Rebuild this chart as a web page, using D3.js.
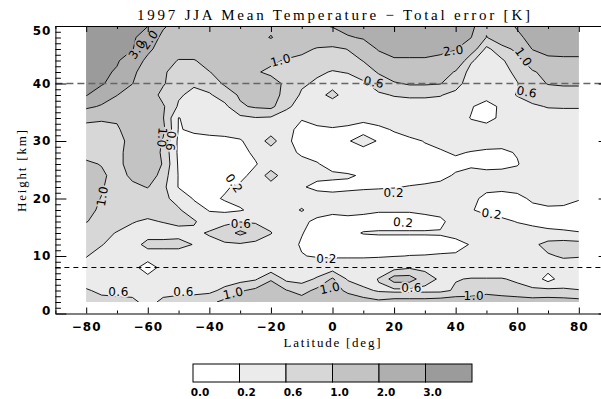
<!DOCTYPE html>
<html>
<head>
<meta charset="utf-8">
<script src="https://cdn.jsdelivr.net/npm/d3@7"></script>
<style>
  html, body { margin: 0; padding: 0; background: #fff; }
  svg { display: block; }
</style>
</head>
<body>
<div id="chart"></div>
<script>
// grid of the field: columns are latitudes, rows are heights (top row = 50 km)
const lats = [-80, -75, -70, -65, -60, -55, -50, -45, -40, -35, -30, -25, -20, -15, -10, -5, 0,
  5, 10, 15, 20, 25, 30, 35, 40, 45, 50, 55, 60, 65, 70, 75, 80];
const heights = [50, 48, 46, 44, 42, 40, 38, 36, 34, 32, 30, 28, 26, 24, 22, 20, 18, 16, 14, 12, 10, 8, 6, 4, 2];

// total error [K]
const errorGrid = [
  [3.8, 3.7, 3.5, 3.3, 3.02, 2.1, 1.7, 1.6, 1.6, 1.6, 1.6, 1.7, 1.8, 1.7, 1.8, 1.9, 2.05, 2.4, 2.6, 2.7, 2.7, 2.7, 2.7, 2.7, 2.5, 2.3, 1.1, 1.6, 2.1, 2.6, 2.8, 2.5, 2.3],
  [3.7, 3.6, 3.4, 3.15, 2.5, 1.8, 1.6, 1.5, 1.5, 1.5, 1.6, 1.7, 2.05, 1.6, 1.5, 1.4, 1.6, 1.9, 2.1, 2.5, 2.6, 2.6, 2.6, 2.6, 2.3, 2.02, 0.98, 1.3, 1.8, 2.3, 2.5, 2.4, 2.3],
  [3.6, 3.5, 3.3, 3.05, 2.2, 1.6, 1.5, 1.5, 1.5, 1.4, 1.4, 1.4, 1.4, 1.3, 1.15, 0.95, 0.85, 1.02, 1.4, 2.1, 2.3, 2.3, 2.3, 2.2, 2.05, 1.3, 0.5, 0.85, 1.1, 2.05, 2.3, 2.2, 2.2],
  [3.5, 3.3, 3.1, 2.5, 1.8, 1.4, 0.95, 0.95, 1.3, 1.3, 1.3, 1.2, 1.1, 0.95, 0.85, 0.8, 0.75, 0.8, 1.02, 1.5, 1.9, 1.9, 1.9, 1.8, 1.5, 0.65, 0.4, 0.55, 0.85, 1.3, 1.8, 1.9, 1.9],
  [3.4, 3.2, 2.9, 2.2, 1.5, 1.05, 0.85, 0.9, 0.98, 1.25, 1.3, 1.05, 0.9, 0.8, 0.7, 0.65, 0.58, 0.62, 0.75, 1.05, 1.3, 1.35, 1.35, 1.3, 0.95, 0.45, 0.3, 0.45, 0.7, 0.95, 1.15, 1.3, 1.3],
  [3.3, 3.1, 2.6, 2.02, 1.4, 1.05, 0.7, 0.65, 0.8, 1.05, 1.3, 1.3, 1.2, 0.9, 0.65, 0.55, 0.45, 0.45, 0.55, 0.75, 0.95, 1.05, 1.05, 1.02, 0.75, 0.4, 0.25, 0.3, 0.58, 0.85, 1.02, 1.05, 1.05],
  [3.05, 2.5, 2.02, 1.6, 1.3, 0.85, 0.65, 0.5, 0.55, 0.8, 1.05, 1.2, 1.2, 0.85, 0.55, 0.45, 0.72, 0.4, 0.45, 0.55, 0.62, 0.65, 0.65, 0.62, 0.5, 0.35, 0.3, 0.45, 0.62, 0.75, 0.8, 0.82, 0.82],
  [2.2, 1.9, 1.6, 1.5, 1.3, 1.05, 0.55, 0.35, 0.35, 0.5, 0.95, 1.05, 1.1, 0.7, 0.4, 0.35, 0.35, 0.35, 0.35, 0.4, 0.45, 0.45, 0.45, 0.45, 0.4, 0.22, 0.1, 0.25, 0.45, 0.55, 0.62, 0.63, 0.63],
  [1.15, 1.1, 1.05, 1.3, 1.3, 1.02, 0.19, 0.3, 0.3, 0.35, 0.5, 0.58, 0.55, 0.35, 0.22, 0.3, 0.3, 0.3, 0.25, 0.3, 0.35, 0.35, 0.35, 0.35, 0.3, 0.19, 0.12, 0.25, 0.35, 0.4, 0.45, 0.45, 0.45],
  [0.8, 0.75, 0.95, 1.2, 1.4, 1.1, 0.18, 0.25, 0.3, 0.32, 0.3, 0.35, 0.35, 0.28, 0.12, 0.15, 0.18, 0.15, 0.12, 0.15, 0.22, 0.3, 0.3, 0.3, 0.28, 0.28, 0.3, 0.3, 0.35, 0.4, 0.42, 0.42, 0.42],
  [0.8, 0.75, 0.8, 1.2, 1.4, 0.95, 0.12, 0.1, 0.1, 0.12, 0.18, 0.3, 0.8, 0.25, 0.1, 0.1, 0.1, 0.18, 0.3, 0.18, 0.12, 0.15, 0.21, 0.25, 0.3, 0.3, 0.28, 0.3, 0.33, 0.38, 0.4, 0.4, 0.4],
  [0.8, 0.8, 0.8, 1.3, 1.4, 0.9, 0.12, 0.1, 0.1, 0.1, 0.12, 0.25, 0.35, 0.3, 0.15, 0.1, 0.1, 0.1, 0.1, 0.1, 0.1, 0.12, 0.15, 0.18, 0.22, 0.19, 0.17, 0.15, 0.22, 0.35, 0.4, 0.4, 0.4],
  [1.1, 0.97, 0.8, 1.3, 1.5, 0.95, 0.15, 0.1, 0.1, 0.1, 0.12, 0.18, 0.35, 0.35, 0.3, 0.22, 0.1, 0.1, 0.1, 0.1, 0.1, 0.1, 0.1, 0.12, 0.15, 0.15, 0.1, 0.12, 0.18, 0.35, 0.4, 0.4, 0.4],
  [1.3, 1.1, 0.8, 1.1, 1.3, 0.8, 0.18, 0.12, 0.1, 0.12, 0.12, 0.3, 0.8, 0.35, 0.3, 0.25, 0.25, 0.22, 0.18, 0.12, 0.12, 0.12, 0.12, 0.15, 0.22, 0.3, 0.3, 0.3, 0.3, 0.35, 0.38, 0.4, 0.4],
  [1.2, 1.05, 0.75, 0.9, 1.02, 0.7, 0.18, 0.12, 0.12, 0.17, 0.25, 0.35, 0.4, 0.35, 0.22, 0.15, 0.12, 0.15, 0.17, 0.18, 0.19, 0.21, 0.23, 0.25, 0.3, 0.28, 0.25, 0.25, 0.3, 0.35, 0.38, 0.4, 0.4],
  [1.2, 0.98, 0.75, 0.7, 0.75, 0.7, 0.45, 0.17, 0.15, 0.22, 0.3, 0.35, 0.35, 0.3, 0.3, 0.3, 0.3, 0.3, 0.3, 0.3, 0.3, 0.3, 0.3, 0.3, 0.3, 0.25, 0.15, 0.12, 0.12, 0.25, 0.3, 0.28, 0.21],
  [1.05, 0.97, 0.75, 0.7, 0.75, 0.75, 0.65, 0.35, 0.18, 0.12, 0.17, 0.3, 0.35, 0.35, 0.65, 0.3, 0.25, 0.28, 0.25, 0.22, 0.22, 0.22, 0.25, 0.28, 0.3, 0.22, 0.12, 0.1, 0.1, 0.12, 0.15, 0.15, 0.15],
  [1.02, 0.85, 0.75, 0.62, 0.55, 0.62, 0.7, 0.65, 0.35, 0.5, 0.58, 0.55, 0.45, 0.35, 0.25, 0.15, 0.12, 0.12, 0.12, 0.12, 0.12, 0.12, 0.12, 0.15, 0.3, 0.35, 0.32, 0.25, 0.19, 0.15, 0.12, 0.12, 0.12],
  [0.75, 0.7, 0.58, 0.5, 0.4, 0.4, 0.45, 0.5, 0.65, 0.8, 1.1, 0.85, 0.62, 0.3, 0.21, 0.12, 0.12, 0.15, 0.21, 0.22, 0.22, 0.22, 0.22, 0.22, 0.25, 0.3, 0.35, 0.35, 0.3, 0.28, 0.25, 0.23, 0.21],
  [0.75, 0.62, 0.45, 0.4, 0.75, 0.75, 0.75, 0.58, 0.45, 0.55, 0.55, 0.5, 0.4, 0.28, 0.18, 0.12, 0.1, 0.1, 0.1, 0.1, 0.1, 0.1, 0.1, 0.12, 0.15, 0.21, 0.3, 0.35, 0.4, 0.5, 0.75, 0.8, 0.75],
  [0.62, 0.45, 0.4, 0.35, 0.35, 0.35, 0.35, 0.35, 0.35, 0.35, 0.35, 0.35, 0.3, 0.25, 0.21, 0.18, 0.16, 0.16, 0.17, 0.18, 0.19, 0.205, 0.21, 0.22, 0.22, 0.28, 0.3, 0.3, 0.25, 0.35, 0.55, 0.65, 0.62],
  [0.45, 0.35, 0.3, 0.3, 0.05, 0.3, 0.35, 0.35, 0.35, 0.35, 0.35, 0.35, 0.35, 0.35, 0.35, 0.35, 0.4, 0.4, 0.35, 0.35, 0.45, 0.55, 0.52, 0.4, 0.35, 0.35, 0.35, 0.35, 0.35, 0.35, 0.35, 0.4, 0.45],
  [0.35, 0.3, 0.3, 0.3, 0.3, 0.3, 0.3, 0.3, 0.35, 0.4, 0.45, 0.55, 0.95, 0.5, 0.45, 0.65, 1.05, 0.55, 0.4, 0.62, 1.2, 1.2, 0.75, 0.55, 0.58, 0.62, 0.62, 0.62, 0.55, 0.45, 0.05, 0.4, 0.35],
  [0.65, 0.5, 0.45, 0.45, 0.45, 0.45, 0.45, 0.45, 0.5, 0.7, 0.95, 1.1, 1.3, 1.02, 0.85, 1.1, 1.2, 0.9, 0.7, 0.55, 0.5, 0.5, 0.5, 0.5, 0.65, 0.8, 0.85, 0.75, 0.7, 0.65, 0.7, 0.65, 0.62],
  [0.7, 0.75, 0.75, 0.7, 0.45, 0.7, 0.8, 0.85, 0.9, 1.1, 1.3, 1.4, 1.4, 1.3, 1.2, 1.3, 1.4, 1.3, 1.2, 1.1, 1.2, 1.2, 1.2, 1.25, 1.3, 1.2, 1.3, 1.3, 1.25, 1.2, 1.2, 1.2, 1.15]
];

const levels = [0, 0.2, 0.6, 1.0, 2.0, 3.0];
const levelLabels = ["0.0", "0.2", "0.6", "1.0", "2.0", "3.0"];
const levelColors = ["#ffffff", "#ebebeb", "#d7d7d7", "#c3c3c3", "#afafaf", "#9b9b9b"];

const xTicks = [-80, -60, -40, -20, 0, 20, 40, 60, 80];
const xMinorTicks = [-90, -70, -50, -30, -10, 10, 30, 50, 70, 90];
const yTicks = [0, 10, 20, 30, 40, 50];
const refHeights = [40, 8];

// contour labels as they sit in the picture
const contourLabels = [
  { lat: -63.4, h: 45.9, text: "3.0", angle: -55 },
  { lat: -59.4, h: 47.6, text: "2.0", angle: -55 },
  { lat: -16.8, h: 44.0, text: "1.0", angle: -15 },
  { lat: -55.4, h: 30.6, text: "1.0", angle: 95 },
  { lat: -52.6, h: 30.0, text: "0.6", angle: 95 },
  { lat: -74.7, h: 20.4, text: "1.0", angle: -80 },
  { lat: -32.0, h: 22.6, text: "0.2", angle: 55 },
  { lat: -29.7, h: 15.6, text: "0.6", angle: 0 },
  { lat: -69.5, h: 3.8, text: "0.6", angle: 0 },
  { lat: -48.4, h: 3.8, text: "0.6", angle: 0 },
  { lat: -32.2, h: 3.5, text: "1.0", angle: -12 },
  { lat: -0.8, h: 4.4, text: "1.0", angle: -12 },
  { lat: 25.7, h: 4.4, text: "0.6", angle: 0 },
  { lat: 45.9, h: 3.0, text: "1.0", angle: 0 },
  { lat: -1.9, h: 9.4, text: "0.2", angle: 0 },
  { lat: 23.0, h: 15.8, text: "0.2", angle: 5 },
  { lat: 51.7, h: 17.3, text: "0.2", angle: 8 },
  { lat: 19.9, h: 21.0, text: "0.2", angle: 0 },
  { lat: 39.3, h: 45.7, text: "2.0", angle: -8 },
  { lat: 13.4, h: 40.2, text: "0.6", angle: 10 },
  { lat: 62.0, h: 44.6, text: "1.0", angle: 55 },
  { lat: 63.1, h: 38.5, text: "0.6", angle: 10 }
];

const width = 601, height = 399;
const svg = d3.select("#chart").append("svg")
  .attr("width", width)
  .attr("height", height);

const x = d3.scaleLinear().domain([-90, 90]).range([55.4, 609.6]);
const y = d3.scaleLinear().domain([0, 50]).range([313.5, 26]);

// grid index space -> lat / height -> pixels
const nx = lats.length, ny = heights.length;
const gLat = d3.scaleLinear().domain([0.5, nx - 0.5]).range([lats[0], lats[nx - 1]]);
const gH = d3.scaleLinear().domain([0.5, ny - 0.5]).range([heights[0], heights[ny - 1]]);
const toScreen = d3.geoTransform({
  point(px, py) { this.stream.point(x(gLat(px)), y(gH(py))); }
});
const path = d3.geoPath(toScreen);

const bands = d3.contours().size([nx, ny]).thresholds(levels)(errorGrid.flat());
const color = d3.scaleOrdinal(levels, levelColors);

const defs = svg.append("defs");
defs.append("clipPath").attr("id", "dataClip").append("rect")
  .attr("x", x(d3.min(lats)))
  .attr("y", y(d3.max(heights)))
  .attr("width", x(d3.max(lats)) - x(d3.min(lats)))
  .attr("height", y(d3.min(heights)) - y(d3.max(heights)));

const labelPos = d => `translate(${x(d.lat)},${y(d.h)}) rotate(${d.angle})`;

// cut the contour lines where the labels sit
const mask = defs.append("mask").attr("id", "labelMask")
  .attr("maskUnits", "userSpaceOnUse")
  .attr("x", 0).attr("y", 0).attr("width", width).attr("height", height);
mask.append("rect").attr("width", width).attr("height", height).attr("fill", "#fff");
mask.selectAll("text").data(contourLabels).join("text")
  .attr("transform", labelPos)
  .attr("text-anchor", "middle")
  .attr("dominant-baseline", "central")
  .attr("font-family", "DejaVu Sans")
  .attr("font-size", 12)
  .attr("letter-spacing", 0.5)
  .attr("fill", "#000")
  .attr("stroke", "#000")
  .attr("stroke-width", 4)
  .text(d => d.text);

const plot = svg.append("g").attr("clip-path", "url(#dataClip)");

plot.selectAll("path.band").data(bands).join("path")
  .attr("class", "band")
  .attr("d", path)
  .attr("fill", d => color(d.value));

plot.append("g").attr("mask", "url(#labelMask)")
  .selectAll("path").data(bands.filter(d => d.value > 0)).join("path")
  .attr("d", path)
  .attr("fill", "none")
  .attr("stroke", "#000")
  .attr("stroke-width", 0.9)
  .attr("stroke-linejoin", "round");

plot.selectAll("text.clabel").data(contourLabels).join("text")
  .attr("class", "clabel")
  .attr("transform", labelPos)
  .attr("text-anchor", "middle")
  .attr("dominant-baseline", "central")
  .attr("font-family", "DejaVu Sans")
  .attr("font-size", 12)
  .attr("letter-spacing", 0.5)
  .attr("fill", "#000")
  .text(d => d.text);

// dashed reference heights
svg.selectAll("line.ref").data(refHeights).join("line")
  .attr("class", "ref")
  .attr("x1", x(-90)).attr("x2", x(90))
  .attr("y1", d => y(d)).attr("y2", d => y(d))
  .attr("stroke", (d, i) => i === 0 ? "#666" : "#000")
  .attr("stroke-width", (d, i) => i === 0 ? 1.5 : 1)
  .attr("stroke-dasharray", (d, i) => i === 0 ? "7,4" : "5,4");

// axes, ticks pointing inward
function styleAxis(g) {
  g.selectAll("path.domain").attr("stroke", "#000").attr("stroke-width", 1);
  g.selectAll(".tick line").attr("stroke", "#000");
  g.selectAll(".tick text")
    .attr("fill", "#000")
    .attr("font-family", "DejaVu Sans")
    .attr("font-weight", "bold")
    .attr("font-size", 12)
    .attr("letter-spacing", 1);
}
function minorOnly(g) {
  g.select("path.domain").remove();
  g.selectAll(".tick line").attr("stroke", "#000");
}

svg.append("g").attr("transform", `translate(0,${y(0)})`)
  .call(d3.axisBottom(x).tickValues(xTicks).tickSize(-6).tickSizeOuter(0).tickPadding(9))
  .call(styleAxis);
svg.append("g").attr("transform", `translate(0,${y(0)})`)
  .call(d3.axisBottom(x).tickValues(xMinorTicks).tickSize(-3).tickFormat(""))
  .call(minorOnly);

svg.append("g").attr("transform", `translate(0,${y(50)})`)
  .call(d3.axisTop(x).tickValues(xTicks).tickSize(-6).tickSizeOuter(0).tickFormat(""))
  .call(styleAxis);
svg.append("g").attr("transform", `translate(0,${y(50)})`)
  .call(d3.axisTop(x).tickValues(xMinorTicks).tickSize(-3).tickFormat(""))
  .call(minorOnly);

const yMinor = d3.range(0, 51).filter(v => v % 10 !== 0);

const yLeft = svg.append("g").attr("transform", `translate(${x(-90)},0)`)
  .call(d3.axisLeft(y).tickValues(yTicks).tickSize(-11).tickSizeOuter(0).tickPadding(4))
  .call(styleAxis);
yLeft.selectAll(".tick text").filter(d => d === 50).attr("y", 5);
yLeft.selectAll(".tick text").filter(d => d === 0).attr("y", -3);
svg.append("g").attr("transform", `translate(${x(-90)},0)`)
  .call(d3.axisLeft(y).tickValues(yMinor).tickSize(-5.5).tickFormat(""))
  .call(minorOnly);

svg.append("g").attr("transform", `translate(${x(90)},0)`)
  .call(d3.axisRight(y).tickValues(yTicks).tickSize(-11).tickSizeOuter(0).tickFormat(""))
  .call(styleAxis);
svg.append("g").attr("transform", `translate(${x(90)},0)`)
  .call(d3.axisRight(y).tickValues(yMinor).tickSize(-5.5).tickFormat(""))
  .call(minorOnly);

// titles
svg.append("text")
  .attr("x", 333.5).attr("y", 20)
  .attr("text-anchor", "middle")
  .attr("font-family", "Liberation Serif")
  .attr("font-size", 15)
  .attr("textLength", 393)
  .attr("lengthAdjust", "spacing")
  .text("1997 JJA Mean Temperature \u2212 Total error [K]");

svg.append("text")
  .attr("x", 332).attr("y", 347)
  .attr("text-anchor", "middle")
  .attr("font-family", "Liberation Serif")
  .attr("font-size", 13)
  .attr("textLength", 97)
  .attr("lengthAdjust", "spacing")
  .text("Latitude [deg]");

svg.append("text")
  .attr("transform", "translate(25.5,171) rotate(-90)")
  .attr("text-anchor", "middle")
  .attr("font-family", "Liberation Serif")
  .attr("font-size", 13)
  .attr("textLength", 82)
  .attr("lengthAdjust", "spacing")
  .text("Height [km]");

// colour bar
const cb = d3.scaleBand().domain(levelLabels).range([193, 472]);
svg.selectAll("rect.cb").data(levelLabels).join("rect")
  .attr("class", "cb")
  .attr("x", d => cb(d))
  .attr("y", 364)
  .attr("width", cb.bandwidth())
  .attr("height", 18)
  .attr("fill", (d, i) => levelColors[i])
  .attr("stroke", "#000")
  .attr("stroke-width", 1);
svg.selectAll("text.cbl").data(levelLabels).join("text")
  .attr("class", "cbl")
  .attr("x", d => cb(d) + 7)
  .attr("y", 395.5)
  .attr("text-anchor", "middle")
  .attr("font-family", "DejaVu Sans")
  .attr("font-weight", "bold")
  .attr("font-size", 10.5)
  .text(d => d);
</script>
</body>
</html>
